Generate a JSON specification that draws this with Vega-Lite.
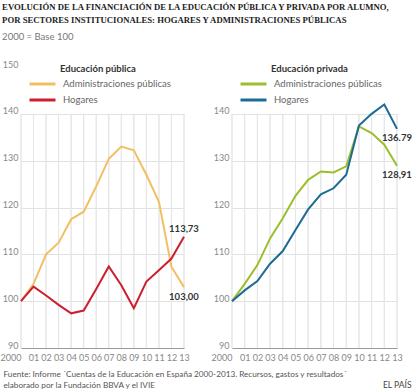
{
  "$schema": "https://vega.github.io/schema/vega-lite/v6.json",
  "padding": {"left": 0, "top": 3, "right": 1, "bottom": 2},
  "bounds": "flush",
  "spacing": 48,
  "title": {
    "text": ["EVOLUCIÓN DE LA FINANCIACIÓN DE LA EDUCACIÓN PÚBLICA Y PRIVADA POR ALUMNO,", "POR SECTORES INSTITUCIONALES: HOGARES Y ADMINISTRACIONES PÚBLICAS"],
    "subtitle": "2000 = Base 100",
    "anchor": "start",
    "frame": "bounds",
    "dx": 2,
    "font": "Liberation Serif",
    "fontSize": 8.7,
    "fontWeight": "bold",
    "color": "#222222",
    "lineHeight": 12.5,
    "subtitleFont": "Lato",
    "subtitleFontSize": 9.5,
    "subtitleColor": "#777777",
    "subtitlePadding": 7,
    "offset": 19
  },
  "datasets": {
    "pub": [
      {"year": 2000, "series": "Administraciones públicas", "value": 100},
      {"year": 2001, "series": "Administraciones públicas", "value": 103.7},
      {"year": 2002, "series": "Administraciones públicas", "value": 110.0},
      {"year": 2003, "series": "Administraciones públicas", "value": 112.5},
      {"year": 2004, "series": "Administraciones públicas", "value": 117.5},
      {"year": 2005, "series": "Administraciones públicas", "value": 119.1},
      {"year": 2006, "series": "Administraciones públicas", "value": 124.5},
      {"year": 2007, "series": "Administraciones públicas", "value": 130.4},
      {"year": 2008, "series": "Administraciones públicas", "value": 133.0},
      {"year": 2009, "series": "Administraciones públicas", "value": 132.2},
      {"year": 2010, "series": "Administraciones públicas", "value": 127.0},
      {"year": 2011, "series": "Administraciones públicas", "value": 121.2},
      {"year": 2012, "series": "Administraciones públicas", "value": 107.3},
      {"year": 2013, "series": "Administraciones públicas", "value": 103.0, "label": "103,00"},
      {"year": 2000, "series": "Hogares", "value": 100},
      {"year": 2001, "series": "Hogares", "value": 103.1},
      {"year": 2002, "series": "Hogares", "value": 101.2},
      {"year": 2003, "series": "Hogares", "value": 99.2},
      {"year": 2004, "series": "Hogares", "value": 97.4},
      {"year": 2005, "series": "Hogares", "value": 98.0},
      {"year": 2006, "series": "Hogares", "value": 102.6},
      {"year": 2007, "series": "Hogares", "value": 107.4},
      {"year": 2008, "series": "Hogares", "value": 103.4},
      {"year": 2009, "series": "Hogares", "value": 98.5},
      {"year": 2010, "series": "Hogares", "value": 104.2},
      {"year": 2011, "series": "Hogares", "value": 106.6},
      {"year": 2012, "series": "Hogares", "value": 109.1},
      {"year": 2013, "series": "Hogares", "value": 113.73, "label": "113,73"}
    ],
    "priv": [
      {"year": 2000, "series": "Administraciones públicas", "value": 100},
      {"year": 2001, "series": "Administraciones públicas", "value": 103.7},
      {"year": 2002, "series": "Administraciones públicas", "value": 107.7},
      {"year": 2003, "series": "Administraciones públicas", "value": 113.4},
      {"year": 2004, "series": "Administraciones públicas", "value": 117.7},
      {"year": 2005, "series": "Administraciones públicas", "value": 122.5},
      {"year": 2006, "series": "Administraciones públicas", "value": 125.9},
      {"year": 2007, "series": "Administraciones públicas", "value": 127.7},
      {"year": 2008, "series": "Administraciones públicas", "value": 127.5},
      {"year": 2009, "series": "Administraciones públicas", "value": 128.8},
      {"year": 2010, "series": "Administraciones públicas", "value": 137.3},
      {"year": 2011, "series": "Administraciones públicas", "value": 135.9},
      {"year": 2012, "series": "Administraciones públicas", "value": 133.4},
      {"year": 2013, "series": "Administraciones públicas", "value": 128.91, "label": "128,91"},
      {"year": 2000, "series": "Hogares", "value": 100},
      {"year": 2001, "series": "Hogares", "value": 102.3},
      {"year": 2002, "series": "Hogares", "value": 104.3},
      {"year": 2003, "series": "Hogares", "value": 108.0},
      {"year": 2004, "series": "Hogares", "value": 110.7},
      {"year": 2005, "series": "Hogares", "value": 115.2},
      {"year": 2006, "series": "Hogares", "value": 119.6},
      {"year": 2007, "series": "Hogares", "value": 122.8},
      {"year": 2008, "series": "Hogares", "value": 124.1},
      {"year": 2009, "series": "Hogares", "value": 127.0},
      {"year": 2010, "series": "Hogares", "value": 137.5},
      {"year": 2011, "series": "Hogares", "value": 140.0},
      {"year": 2012, "series": "Hogares", "value": 142.0},
      {"year": 2013, "series": "Hogares", "value": 136.79, "label": "136.79"}
    ]
  },
  "hconcat": [
    {
      "width": 163,
      "height": 281,
      "data": {"name": "pub"},
      "encoding": {
        "x": {
          "field": "year", "type": "quantitative",
          "scale": {"domain": [2000, 2013], "nice": false, "zero": false},
          "axis": {
            "values": [2000, 2001, 2002, 2003, 2004, 2005, 2006, 2007, 2008, 2009, 2010, 2011, 2012, 2013],
            "labelExpr": "datum.value == 2000 ? '2000' : format(datum.value % 100, '02d')",
            "grid": false, "ticks": false, "domain": true, "domainColor": "#9a9a9a", "domainWidth": 1,
            "labelPadding": 5, "labelFontSize": 9, "labelColor": "#888888", "labelOverlap": false, "labelFlush": false,
            "labelAlign": {"condition": {"test": "datum.value == 2000", "value": "right"}, "value": "center"},
            "title": ["Fuente: Informe ´Cuentas de la Educación en España 2000-2013. Recursos, gastos y resultados´", "elaborado por la Fundación BBVA y el IVIE"],
            "titleAnchor": "start", "titleAlign": "left", "titleX": -18, "titleY": 28, "titleBaseline": "alphabetic",
            "titleFontSize": 8.2, "titleColor": "#555555", "titleFontWeight": "normal", "titleLineHeight": 11
          }
        }
      },
      "layer": [
        {
          "mark": {"type": "rule", "color": "#e6e6e6", "strokeWidth": 1},
          "encoding": {
            "y": {"datum": 90, "type": "quantitative"},
            "y2": {"datum": 140}
          }
        },
        {
          "mark": {"type": "line", "strokeWidth": 2},
          "encoding": {
            "y": {
              "field": "value", "type": "quantitative",
              "scale": {"domain": [90, 150], "nice": false, "zero": false},
              "axis": {
                "title": null, "values": [90, 100, 110, 120, 130, 140, 150],
                "grid": true, "gridColor": "#e2e2e2",
                "gridOpacity": {"condition": {"test": "datum.value == 150", "value": 0}, "value": 1},
                "domain": false, "ticks": false, "labelBaseline": "alphabetic", "labelPadding": 3,
                "labelFontSize": 9, "labelColor": "#888888"
              }
            },
            "color": {
              "field": "series", "type": "nominal",
              "scale": {"domain": ["Administraciones públicas", "Hogares"], "range": ["#f2bf63", "#cc1f2f"]},
              "legend": {
                "title": "Educación pública", "orient": "none", "legendX": 12, "legendY": -3,
                "symbolType": "M-1.625,0H1.625", "symbolSize": 256, "symbolStrokeWidth": 3,
                "labelOffset": 11, "labelFont": "Lato", "labelFontSize": 9.5, "labelColor": "#666666",
                "titleFont": "Lato", "titleFontSize": 9.5, "titleColor": "#333333", "titleFontWeight": "bold",
                "titlePadding": 1, "rowPadding": 0,
                "encoding": {"title": {"dx": {"value": 27}}}
              }
            }
          }
        },
        {
          "transform": [{"filter": "datum.label != null && datum.series == 'Hogares'"}],
          "mark": {"type": "text", "fontWeight": "bold", "fontSize": 9.5, "color": "#333333", "baseline": "bottom", "dy": -3, "font": "Lato"},
          "encoding": {
            "y": {"field": "value", "type": "quantitative"},
            "text": {"field": "label"}
          }
        },
        {
          "transform": [{"filter": "datum.label != null && datum.series != 'Hogares'"}],
          "mark": {"type": "text", "fontWeight": "bold", "fontSize": 9.5, "color": "#333333", "baseline": "top", "dy": 5, "font": "Lato"},
          "encoding": {
            "y": {"field": "value", "type": "quantitative"},
            "text": {"field": "label"}
          }
        }
      ]
    },
    {
      "width": 165,
      "height": 281,
      "data": {"name": "priv"},
      "encoding": {
        "x": {
          "field": "year", "type": "quantitative",
          "scale": {"domain": [2000, 2013], "nice": false, "zero": false},
          "axis": {
            "values": [2000, 2001, 2002, 2003, 2004, 2005, 2006, 2007, 2008, 2009, 2010, 2011, 2012, 2013],
            "labelExpr": "datum.value == 2000 ? '2000' : format(datum.value % 100, '02d')",
            "grid": false, "ticks": false, "domain": true, "domainColor": "#9a9a9a", "domainWidth": 1,
            "labelPadding": 5, "labelFontSize": 9, "labelColor": "#888888", "labelOverlap": false, "labelFlush": false,
            "labelAlign": {"condition": {"test": "datum.value == 2000", "value": "right"}, "value": "center"},
            "title": "EL PAÍS",
            "titleAnchor": "end", "titleAlign": "right", "titleX": 179, "titleY": 39, "titleBaseline": "alphabetic",
            "titleFontSize": 8.5, "titleColor": "#444444", "titleFontWeight": "normal"
          }
        }
      },
      "layer": [
        {
          "mark": {"type": "rule", "color": "#e6e6e6", "strokeWidth": 1},
          "encoding": {
            "y": {"datum": 90, "type": "quantitative"},
            "y2": {"datum": 140}
          }
        },
        {
          "mark": {"type": "line", "strokeWidth": 2},
          "encoding": {
            "y": {
              "field": "value", "type": "quantitative",
              "scale": {"domain": [90, 150], "nice": false, "zero": false},
              "axis": {
                "title": null, "values": [90, 100, 110, 120, 130, 140],
                "grid": true, "gridColor": "#e2e2e2",
                "domain": false, "ticks": false, "labelBaseline": "alphabetic", "labelPadding": 3,
                "labelFontSize": 9, "labelColor": "#888888"
              }
            },
            "color": {
              "field": "series", "type": "nominal",
              "scale": {"domain": ["Administraciones públicas", "Hogares"], "range": ["#9bbf2b", "#1d6b94"]},
              "legend": {
                "title": "Educación privada", "orient": "none", "legendX": 12, "legendY": -3,
                "symbolType": "M-1.625,0H1.625", "symbolSize": 256, "symbolStrokeWidth": 3,
                "labelOffset": 11, "labelFont": "Lato", "labelFontSize": 9.5, "labelColor": "#666666",
                "titleFont": "Lato", "titleFontSize": 9.5, "titleColor": "#333333", "titleFontWeight": "bold",
                "titlePadding": 1, "rowPadding": 0,
                "encoding": {"title": {"dx": {"value": 27}}}
              }
            }
          }
        },
        {
          "transform": [{"filter": "datum.label != null"}],
          "mark": {"type": "text", "fontWeight": "bold", "fontSize": 9.5, "color": "#333333", "baseline": "top", "dy": 4, "font": "Lato"},
          "encoding": {
            "y": {"field": "value", "type": "quantitative"},
            "text": {"field": "label"}
          }
        }
      ]
    }
  ],
  "resolve": {"scale": {"color": "independent"}},
  "config": {
    "view": {"stroke": null},
    "font": "Lato",
    "axis": {"labelFont": "Lato", "titleFont": "Lato"}
  }
}
